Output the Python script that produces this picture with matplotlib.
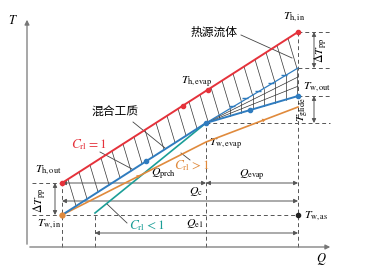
import numpy as np
import matplotlib
matplotlib.use('Agg')
import matplotlib.pyplot as plt

plt.rcParams['font.family'] = ['Noto Sans CJK SC', 'DejaVu Sans']
plt.rcParams['mathtext.fontset'] = 'stix'

# state points, Q (heat) vs T (temperature), schematic units
Q_hot = [35, 271]            # heat source, T_h,out -> T_h,in
T_hot = [64, 215]
Q_hot_dots = [35, 156, 181, 271]

Q_wf = [35, 179, 271]        # working fluid, C_rl = 1
T_wf = [32, 124, 151]
Q_wf_dots = [119, 179, 223, 271]
Q_wf_up = [179, 271]         # upper limit in evaporation
T_wf_up = [124, 179]

Q_gt = [35, 179, 271]        # C_rl > 1
T_gt = [32, 105, 140]
Q_lt = [68, 179]             # C_rl < 1
T_lt = [34, 124]

T_w_as = 32
Q_prch = [35, 179]
Q_evap = [179, 271]
Q_c = [35, 271]
Q_e1 = [68, 271]
T_q_rows = [64, 64, 46, 14]  # heights of the Q arrows

c_red = '#e5323b'
c_blue = '#2f7cbf'
c_orange = '#e08a3c'
c_teal = '#1b9e97'
c_gray = '#555555'

fig = plt.figure(figsize=(3.68, 2.68), dpi=100)
ax = fig.add_axes([0, 0, 1, 1])
ax.set_xlim(-27, 341)
ax.set_ylim(-21, 247)
ax.axis('off')

# axes
ax.annotate('', xy=(306, 0), xytext=(0, 0),
            arrowprops=dict(arrowstyle='-|>', color='#777777', lw=0.9, mutation_scale=7))
ax.annotate('', xy=(0, 230), xytext=(0, 0),
            arrowprops=dict(arrowstyle='-|>', color='#777777', lw=0.9, mutation_scale=7))
ax.text(-14, 227, '$T$', fontsize=9, ha='center', va='center')
ax.text(294, -12, '$Q$', fontsize=9, ha='center', va='center')


def hot(q):
    return np.interp(q, Q_hot, T_hot)


def lower(q):
    if q <= Q_wf[1]:
        return np.interp(q, Q_wf, T_wf)
    return np.interp(q, Q_wf_up, T_wf_up)


# hatching between heat source and working fluid
for q0 in np.arange(41, 270, 11):
    t0 = hot(q0)
    s = np.linspace(0, 80, 800)
    qs = q0 + 0.3 * s
    ts = t0 - s
    lo = np.array([lower(q) for q in qs])
    k = np.argmax(ts <= lo)
    ax.plot([q0, qs[k]], [t0, ts[k]], color='#333333', lw=0.5)
    if qs[k] > Q_wf[1] + 3 and qs[k] < Q_wf[2]:
        ax.plot([qs[k], qs[k]], [ts[k], np.interp(qs[k], Q_wf, T_wf)], color='#333333', lw=0.5)

# cross lines inside evaporation zone
for f in [0.35, 0.68]:
    tt = [T_wf[1], T_wf[2] + f * (T_wf_up[1] - T_wf[2])]
    ax.plot(Q_wf_up, tt, color='#333333', lw=0.5)

# dashed guides
dash = dict(color=c_gray, lw=0.7, ls=(0, (4, 3)))
ax.plot([Q_hot[0], Q_hot[0]], [0, T_hot[0]], **dash)
ax.plot([Q_lt[0], Q_lt[0]], [0, T_lt[0]], **dash)
ax.plot([Q_wf[1], Q_wf[1]], [0, T_wf[1]], **dash)
ax.plot([Q_hot[1], Q_hot[1]], [0, T_hot[1]], **dash)
ax.plot([5, Q_hot[0]], [T_hot[0], T_hot[0]], **dash)
ax.plot([5, Q_hot[1]], [T_w_as, T_w_as], **dash)
for t in [T_hot[1], T_wf_up[1], T_wf[2]]:
    ax.plot([Q_hot[1], 303], [t, t], **dash)
ax.plot([Q_wf[1], 303], [T_wf[1], T_wf[1]], **dash)

# lines
ax.plot(Q_hot, T_hot, color=c_red, lw=1.4, zorder=5)
ax.plot(Q_hot_dots, hot(Q_hot_dots), 'o', color=c_red, ms=3, zorder=6)
ax.plot(Q_lt, T_lt, color=c_teal, lw=1.2, zorder=4)
ax.plot(Q_gt, T_gt, color=c_orange, lw=1.2, zorder=4)
ax.plot(Q_wf, T_wf, color=c_blue, lw=1.4, zorder=5)
ax.plot(Q_wf_dots, np.interp(Q_wf_dots, Q_wf, T_wf), 'o', color=c_blue, ms=3, zorder=6)
ax.plot(Q_wf_up, T_wf_up, color=c_blue, lw=0.9, zorder=5)
q_tick = [205, 218, 231, 244, 257]
ax.plot(q_tick, np.interp(q_tick, Q_wf_up, T_wf_up) + 1.2, '_', color=c_blue, ms=5, mew=1.0, zorder=5)
ax.plot(Q_gt[0], T_gt[0], 'o', color=c_orange, ms=3.5, zorder=6)
ax.plot(Q_hot[1], T_w_as, 'o', color='#222222', ms=3, zorder=6)

for q in [111, 234]:
    ax.annotate('', xy=(q + 5, np.interp(q + 5, Q_gt, T_gt)), xytext=(q, np.interp(q, Q_gt, T_gt)),
                arrowprops=dict(arrowstyle='-|>', color=c_orange, lw=0, mutation_scale=7), zorder=6)

# Q arrows
arr = dict(arrowstyle='<|-|>', color=c_gray, lw=0.7, mutation_scale=6, shrinkA=0, shrinkB=0)
for qq, t in zip([Q_prch, Q_evap, Q_c, Q_e1], T_q_rows):
    ax.annotate('', xy=(qq[1], t), xytext=(qq[0], t), arrowprops=arr)

# vertical double arrows
ax.annotate('', xy=(287, T_wf_up[1]), xytext=(287, T_hot[1]), arrowprops=arr)
ax.annotate('', xy=(287, T_wf[1]), xytext=(287, T_wf[2]), arrowprops=arr)
ax.annotate('', xy=(28, T_w_as), xytext=(28, T_hot[0]), arrowprops=arr)

# leaders
lead = dict(color='#444444', lw=0.6)
ax.plot([214, 265], [212, 189], **lead)
ax.plot([106, 138], [125, 99], **lead)
ax.plot([73, 105], [95, 78], **lead)
ax.plot([163, 154], [87, 94], **lead)
ax.plot([100, 80], [24, 43], **lead)

fs = 8.5
fc = 9.5
ax.text(267, 230, r'$T_{\mathrm{h,in}}$', fontsize=fs, ha='center', va='center')
ax.text(187, 215, '热源流体', fontsize=8.5, ha='center', va='center')
ax.text(170, 165, r'$T_{\mathrm{h,evap}}$', fontsize=fs, ha='center', va='center')
ax.text(88, 135, '混合工质', fontsize=8.5, ha='center', va='center')
ax.text(62, 102, r'$C_{\mathrm{rl}}=1$', fontsize=fc, ha='center', va='center', color=c_red)
ax.text(137, 73, r'$Q_{\mathrm{prch}}$', fontsize=fs, ha='center', va='center')
ax.text(165, 81, r'$C_{\mathrm{rl}}>1$', fontsize=fc, ha='center', va='center', color=c_orange)
ax.text(199, 103, r'$T_{\mathrm{w,evap}}$', fontsize=fs, ha='center', va='center')
ax.text(225, 72, r'$Q_{\mathrm{evap}}$', fontsize=fs, ha='center', va='center')
ax.text(169, 55, r'$Q_{\mathrm{c}}$', fontsize=fs, ha='center', va='center')
ax.text(277, 31, r'$T_{\mathrm{w,as}}$', fontsize=fs, ha='left', va='center')
ax.text(168, 23, r'$Q_{\mathrm{e1}}$', fontsize=fs, ha='center', va='center')
ax.text(290, 160, r'$T_{\mathrm{w,out}}$', fontsize=fs, ha='center', va='center')
ax.text(276, 137, r'$T_{\mathrm{glide}}$', fontsize=fs, ha='center', va='center', rotation=90)
ax.text(294, 197, r'$\Delta T_{\mathrm{pp}}$', fontsize=fs, ha='center', va='center', rotation=90)
ax.text(21, 77, r'$T_{\mathrm{h,out}}$', fontsize=fs, ha='center', va='center')
ax.text(22, 23, r'$T_{\mathrm{w,in}}$', fontsize=fs, ha='center', va='center')
ax.text(13, 47, r'$\Delta T_{\mathrm{pp}}$', fontsize=fs, ha='center', va='center', rotation=90)
ax.text(120, 21, r'$C_{\mathrm{rl}}<1$', fontsize=fc, ha='center', va='center', color=c_teal)

fig.savefig('out.png', dpi=100)
